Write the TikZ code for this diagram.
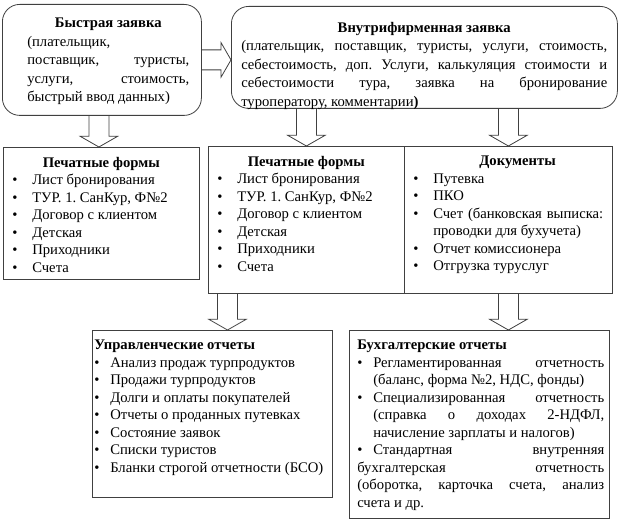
\documentclass[tikz,border=0pt]{standalone}
\usepackage{fontspec}
\setmainfont{Liberation Serif}
\usetikzlibrary{calc}
\newlength{\itmind}
\newcommand{\itm}[1]{\par\hangindent=\itmind\hangafter=1\noindent\hbox to\itmind{\textbullet\hfil}#1}
\newcommand{\vblock}[2]{\draw[blockarrow] let \p1=#1, \p2=#2 in
  (\x1-7.5pt,\y1) -- (\x1-7.5pt,\y2+8pt) -- (\x1-14pt,\y2+8pt) -- (\x1,\y2)
  -- (\x1+14pt,\y2+8pt) -- (\x1+7.5pt,\y2+8pt) -- (\x1+7.5pt,\y1);}
\newcommand{\hblock}[2]{\draw[blockarrow] let \p1=#1, \p2=#2 in
  (\x1,\y1+7.5pt) -- (\x2-7.5pt,\y1+7.5pt) -- (\x2-7.5pt,\y1+13pt) -- (\x2,\y1)
  -- (\x2-7.5pt,\y1-13pt) -- (\x2-7.5pt,\y1-7.5pt) -- (\x1,\y1-7.5pt);}
\tikzset{
  blockarrow/.style={draw=black!75, line width=0.6pt},
  plainbox/.style={draw=black!75, line width=0.6pt, inner sep=0pt, anchor=north west},
  roundbox/.style={plainbox, rounded corners=13pt},
  boxtext/.style={inner sep=0pt, anchor=north west, align=justify,
    font=\rmfamily\fontsize{11}{13.1}\selectfont\frenchspacing},
  widetext/.style={boxtext, font=\rmfamily\fontsize{11}{13.8}\selectfont\frenchspacing},
}
\begin{document}
\begin{tikzpicture}[x=0.75pt, y=-0.75pt]
  \useasboundingbox (0,0) rectangle (624,520);
  % boxes
  \node[roundbox, minimum width=149.25pt, minimum height=83.25pt] (b1) at (2,4) {};
  \node[roundbox, minimum width=289.5pt, minimum height=76.5pt] (b2) at (231,6) {};
  \node[plainbox, minimum width=147pt, minimum height=99pt] (b3) at (3,147) {};
  \node[plainbox, minimum width=147pt, minimum height=110.25pt] (b4) at (208,146) {};
  \node[plainbox, minimum width=156pt, minimum height=110.25pt] (b5) at (404,146) {};
  \node[plainbox, minimum width=180pt, minimum height=125pt] (b6) at (92,330) {};
  \node[plainbox, minimum width=195pt, minimum height=141pt] (b7) at (349,330) {};
  % texts
  \node[widetext, text width=121.5pt] (t1) at ($(b1.north west)+(25,14)$) {%
    {\centering\textbf{Быстрая заявка}\par}
    (плательщик,\newline поставщик, туристы,\linebreak услуги, стоимость,\linebreak быстрый ввод данных)};
  \node[widetext, text width=274.5pt] (t2) at ($(b2.north west)+(10,16)$) {%
    {\centering\textbf{Внутрифирменная заявка}\par}
    (плательщик, поставщик, туристы, услуги, стоимость,\linebreak себестоимость, доп. Услуги, калькуляция стоимости и\linebreak
    себестоимости тура, заявка на бронирование\linebreak туроператору, комментарии\textbf{)}};
  \node[boxtext, text width=133.5pt] (t3) at ($(b3.north west)+(9,10)$) {%
    \setlength{\itmind}{15pt}{\centering\textbf{Печатные формы}\par}
    \itm{Лист бронирования}\itm{ТУР. 1. СанКур, Ф№2}\itm{Договор с клиентом}
    \itm{Детская}\itm{Приходники}\itm{Счета}};
  \node[boxtext, text width=133.5pt] (t4) at ($(b4.north west)+(9,10)$) {%
    \setlength{\itmind}{15pt}{\centering\textbf{Печатные формы}\par}
    \itm{Лист бронирования}\itm{ТУР. 1. СанКур, Ф№2}\itm{Договор с клиентом}
    \itm{Детская}\itm{Приходники}\itm{Счета}};
  \node[boxtext, text width=142.5pt] (t5) at ($(b5.north west)+(9,10)$) {%
    \setlength{\itmind}{15pt}{\centering\hspace*{14pt}\textbf{Документы}\par}
    \itm{Путевка}\itm{ПКО}\itm{Счет (банковская выписка:\linebreak проводки для бухучета)}
    \itm{Отчет комиссионера}\itm{Отгрузка туруслуг}};
  \node[boxtext, text width=172.5pt] (t6) at ($(b6.north west)+(2,10)$) {%
    \setlength{\itmind}{12pt}\textbf{Управленческие отчеты}
    \itm{Анализ продаж турпродуктов}\itm{Продажи турпродуктов}\itm{Долги и оплаты покупателей}
    \itm{Отчеты о проданных путевках}\itm{Состояние заявок}\itm{Списки туристов}
    \itm{Бланки строгой отчетности (БСО)}};
  \node[boxtext, text width=185.25pt] (t7) at ($(b7.north west)+(8,10)$) {%
    \setlength{\itmind}{12pt}\textbf{Бухгалтерские отчеты}
    \itm{Регламентированная отчетность\linebreak (баланс, форма №2, НДС, фонды)}
    \itm{Специализированная отчетность\linebreak (справка о доходах 2-НДФЛ,\linebreak начисление зарплаты и налогов)}
    \itm{Стандартная внутренняя\linebreak бухгалтерская отчетность\linebreak (оборотка, карточка счета, анализ\linebreak счета и др.}};
  % arrows
  \hblock{(b1.east)}{(b2.west)}
  \vblock{($(b1.south)+(-3,0)$)}{(b3.north)}
  \vblock{(b2.south -| b4.north)}{(b4.north)}
  \vblock{(b2.south -| b5.north)}{(b5.north)}
  \vblock{($(b4.south west)+(19.5,0)$)}{(b6.north)}
  \vblock{(b5.south)}{(b7.north)}
\end{tikzpicture}
\end{document}
